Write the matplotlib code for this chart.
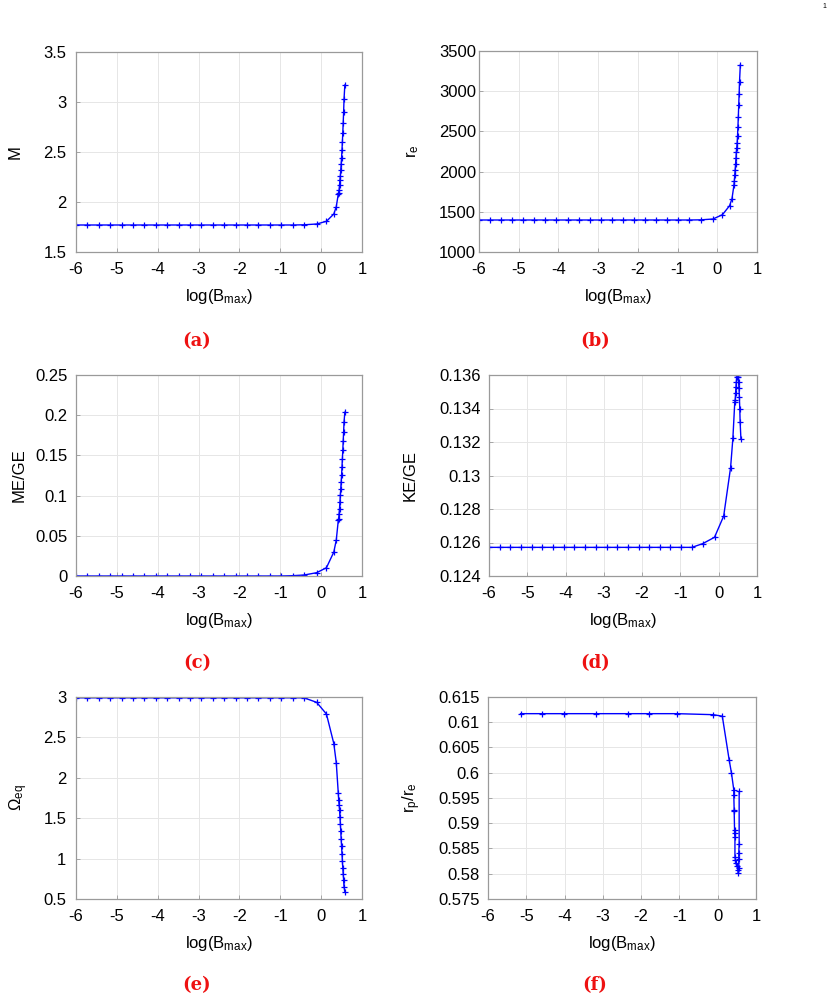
import numpy as np
import matplotlib.pyplot as plt
from matplotlib.ticker import FuncFormatter

plt.rcParams['font.family'] = ['Liberation Sans', 'DejaVu Sans']
plt.rcParams['mathtext.fontset'] = 'custom'
plt.rcParams['mathtext.rm'] = 'Liberation Sans'
plt.rcParams['mathtext.it'] = 'Liberation Sans:italic'
plt.rcParams['axes.unicode_minus'] = False

# log(B_max) values shared by panels (a)-(e)
log_b = [-6.00, -5.72, -5.44, -5.16, -4.88, -4.61, -4.33, -4.05, -3.77, -3.49,
         -3.21, -2.93, -2.65, -2.37, -2.09, -1.81, -1.54, -1.26, -0.98, -0.70,
         -0.42, -0.11, 0.13, 0.31, 0.37, 0.42, 0.43, 0.44, 0.45, 0.46,
         0.47, 0.48, 0.49, 0.50, 0.51, 0.52, 0.53, 0.54, 0.55, 0.56, 0.58]

mass = [1.770] * 20 + [1.772,
        1.780, 1.807, 1.880, 1.953, 2.080, 2.087, 2.120, 2.170, 2.220, 2.260,
        2.320, 2.377, 2.443, 2.520, 2.603, 2.693, 2.793, 2.897, 3.027, 3.170]

r_eq = [1398] * 20 + [1400,
        1410, 1464, 1576, 1663, 1833, 1887, 1958, 2020, 2095, 2165,
        2240, 2296, 2352, 2447, 2559, 2683, 2829, 2966, 3119, 3326]

me_ge = [0.0] * 19 + [0.0004, 0.0012,
         0.0041, 0.0103, 0.0298, 0.0446, 0.0694, 0.0715, 0.0777, 0.0839, 0.0921, 0.1004,
         0.1087, 0.1169, 0.1252, 0.1355, 0.1459, 0.1562, 0.1678, 0.1789, 0.1913, 0.2037]

ke_ge = [0.12571] * 20 + [0.12593,
         0.12631, 0.12758, 0.13047, 0.13222, 0.13441, 0.13451, 0.13491, 0.13527, 0.13560, 0.13586,
         0.13598, 0.13600, 0.13600, 0.13586, 0.13556, 0.13522, 0.13466, 0.13399, 0.13317, 0.13218]

omega = [2.99] * 21 + [
         2.934, 2.789, 2.424, 2.188, 1.806, 1.723, 1.665, 1.607, 1.516, 1.433,
         1.337, 1.243, 1.151, 1.060, 0.969, 0.882, 0.811, 0.736, 0.653, 0.591]

# panel (f) has its own sequence
log_b_f = [-5.15, -4.58, -4.02, -3.19, -2.35, -1.80, -1.07, -0.12, 0.12, 0.30,
           0.36, 0.42, 0.42, 0.43, 0.43, 0.44, 0.44, 0.45, 0.45, 0.46,
           0.47, 0.50, 0.53, 0.54, 0.55, 0.55, 0.55, 0.56, 0.56]
rp_re = [0.6117, 0.6117, 0.6117, 0.6117, 0.6117, 0.6117, 0.6117, 0.6115, 0.6112, 0.6025,
         0.5999, 0.5966, 0.5956, 0.5926, 0.5924, 0.5887, 0.5880, 0.5873, 0.5834, 0.5828,
         0.5822, 0.5815, 0.5808, 0.5801, 0.5812, 0.5830, 0.5841, 0.5859, 0.5963]

W, H = 830, 998

def px_axes(left, top, right, bottom):
    return [left / W, 1 - bottom / H, (right - left) / W, (bottom - top) / H]

panels = [
    dict(x=log_b, y=mass, box=(76, 52, 362, 252), ylim=(1.5, 3.5), step=0.5,
         ylabel='M', lab_x=15, ypad=7, cap='(a)', cap_xy=(197, 341)),
    dict(x=log_b, y=r_eq, box=(479, 51, 757, 252), ylim=(1000, 3500), step=500,
         ylabel='r$_{\\mathregular{e}}$', lab_x=413, ypad=2, cap='(b)', cap_xy=(595, 341)),
    dict(x=log_b, y=me_ge, box=(76, 375, 362, 576), ylim=(0, 0.25), step=0.05,
         ylabel='ME/GE', lab_x=19, ypad=6, cap='(c)', cap_xy=(197, 663)),
    dict(x=log_b, y=ke_ge, box=(489, 375, 757, 576), ylim=(0.124, 0.136), step=0.002,
         ylabel='KE/GE', lab_x=410, ypad=6, cap='(d)', cap_xy=(595, 663)),
    dict(x=log_b, y=omega, box=(76, 697, 362, 899), ylim=(0.5, 3.0), step=0.5,
         ylabel='Ω$_{\\mathregular{eq}}$', lab_x=19, ypad=7, cap='(e)', cap_xy=(197, 985)),
    dict(x=log_b_f, y=rp_re, box=(488, 697, 756, 899), ylim=(0.575, 0.615), step=0.005,
         ylabel='r$_{\\mathregular{p}}$/r$_{\\mathregular{e}}$', lab_x=412, ypad=6,
         cap='(f)', cap_xy=(595, 985)),
]

fig = plt.figure(figsize=(W / 100, H / 100), dpi=100)

for p in panels:
    ax = fig.add_axes(px_axes(*p['box']))
    ax.plot(p['x'], p['y'], color='blue', linewidth=1.0, marker='+',
            markersize=5, markeredgewidth=0.9)
    ax.set_xlim(-6, 1)
    ax.set_ylim(*p['ylim'])
    ax.set_xticks(np.arange(-6, 1.5, 1))
    lo, hi = p['ylim']
    ax.set_yticks(np.arange(lo, hi + p['step'] / 2, p['step']))
    ax.yaxis.set_major_formatter(FuncFormatter(lambda v, pos: '%g' % round(v, 6)))
    ax.grid(True, color='#e6e6e6', linewidth=0.7)
    ax.set_axisbelow(True)
    for s in ax.spines.values():
        s.set_color('#9a9a9a')
        s.set_linewidth(0.9)
    ax.tick_params(direction='in', length=3, width=0.6, color='#9a9a9a',
                   labelsize=12, labelcolor='black')
    ax.tick_params(axis='x', pad=7.5)
    ax.tick_params(axis='y', pad=p['ypad'])
    ax.set_xlabel('log(B$_{\\mathregular{max}}$)', fontsize=12, labelpad=7)
    ax.set_ylabel(p['ylabel'], fontsize=12, va='center')
    left, top, right, bottom = p['box']
    ax.yaxis.set_label_coords((p['lab_x'] - left) / (right - left), 0.5)
    cx, cy = p['cap_xy']
    fig.text(cx / W, 1 - cy / H, p['cap'], color='#ee1111', fontsize=13,
             fontweight='bold', family='DejaVu Serif', ha='center', va='center')

fig.text(0.996, 0.997, '1', fontsize=5, ha='right', va='top')

fig.savefig('out.png', dpi=100)
